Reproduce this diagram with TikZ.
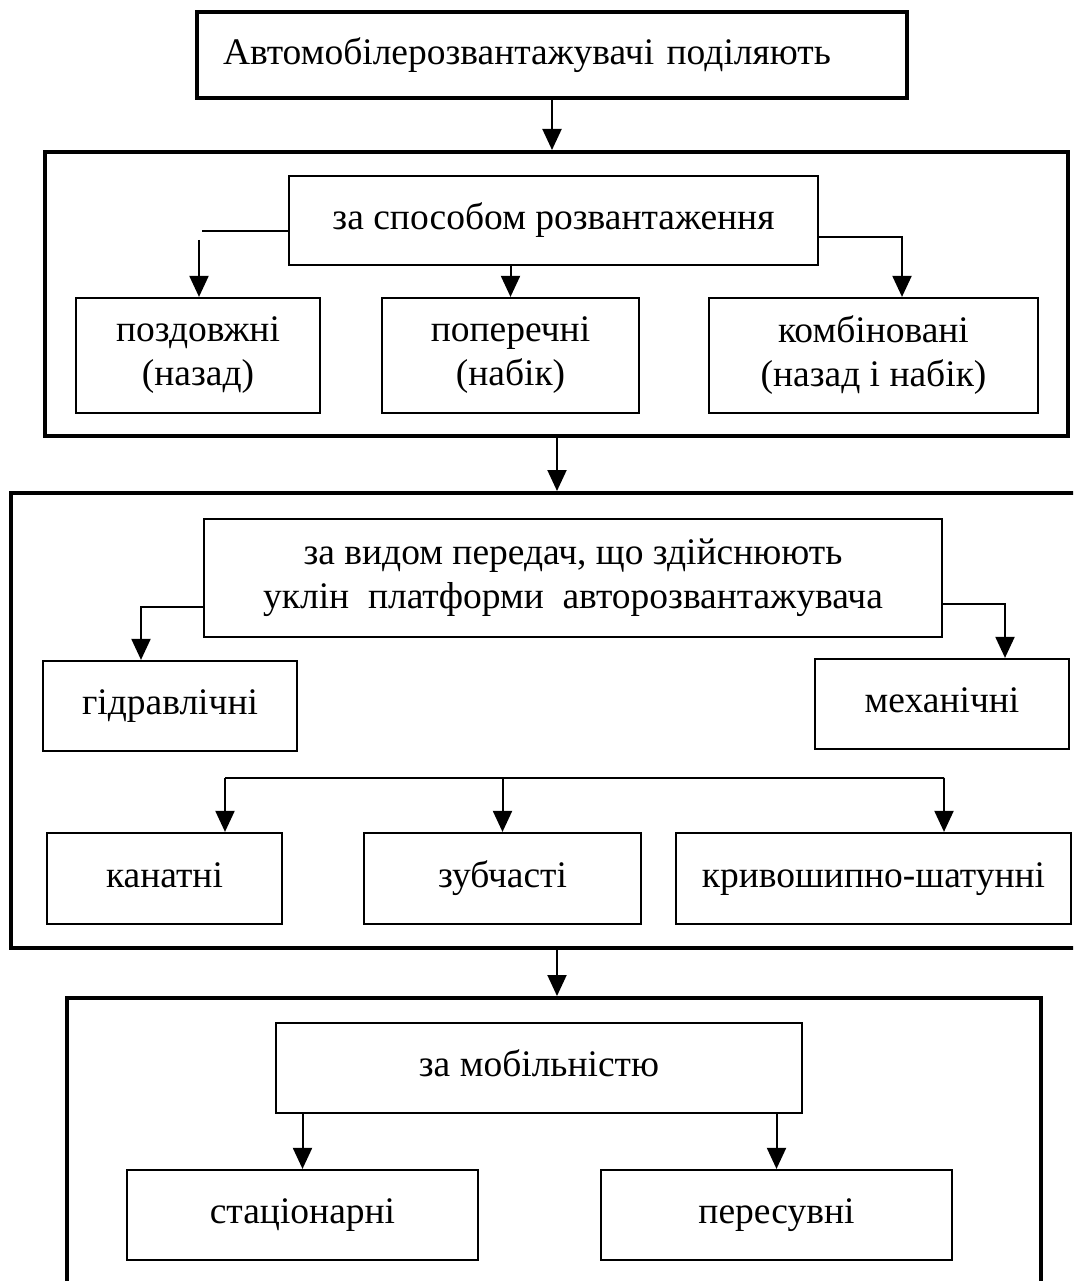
\documentclass[tikz,border=0pt]{standalone}
\usepackage{fontspec}
\setmainfont{Liberation Serif}
\usetikzlibrary{arrows.meta,calc}
\tikzset{
  txt/.style={font=\fontsize{37.5}{44}\selectfont},
  box/.style={draw, line width=2.2pt, inner sep=0pt, align=center, txt},
  sbox/.style={box, execute at begin node=\strut},
  topbox/.style={draw, line width=3.5pt, inner ysep=0pt, inner xsep=26pt, align=left, txt},
  grp/.style={draw, line width=4pt, inner sep=0pt},
  conn/.style={line width=2pt},
  arr/.style={conn, -{Triangle[length=21pt,width=19pt]}},
}
\begin{document}
\begin{tikzpicture}[x=1pt,y=-1pt]
\useasboundingbox (0,0) rectangle (1073,1281);
\clip (0,0) rectangle (1073,1281);
% top
\node[topbox, minimum height=86pt, text width=658pt] (top) at (552,55) {Автомобілерозвантажувачі поділяють};
% group 1
\node[grp, minimum width=1023pt, minimum height=284pt] (g1) at (556.5,294) {};
\node[sbox, minimum width=529pt, minimum height=89pt] (s1) at (553.5,220.5) {за способом розвантаження};
\node[box, minimum width=244pt, minimum height=115pt] (b11) at (198,355.5) {поздовжні\\(назад)};
\node[box, minimum width=257pt, minimum height=115pt] (b12) at (510.5,355.5) {поперечні\\(набік)};
\node[box, minimum width=329pt, minimum height=115pt] (b13) at (873.5,355.5) {комбіновані\\(назад і набік)};
% group 2
\node[grp, minimum width=1079pt, minimum height=455pt] (g2) at (550.5,720.5) {};
\node[box, minimum width=738pt, minimum height=118pt] (s2) at (573,578) {за видом передач, що здійснюють\\уклін\ \ платформи\ \ авторозвантажувача};
\node[sbox, minimum width=254pt, minimum height=90pt] (b21) at (170,706) {гідравлічні};
\node[sbox, minimum width=254pt, minimum height=90pt] (b22) at (942,704) {механічні};
\node[sbox, minimum width=235pt, minimum height=91pt] (b31) at (164.5,878.5) {канатні};
\node[sbox, minimum width=277pt, minimum height=91pt] (b32) at (502.5,878.5) {зубчасті};
\node[sbox, minimum width=395pt, minimum height=91pt] (b33) at (873.5,878.5) {кривошипно-шатунні};
% group 3
\node[grp, minimum width=974pt, minimum height=302pt] (g3) at (554,1149) {};
\node[sbox, minimum width=526pt, minimum height=90pt] (s3) at (539,1068) {за мобільністю};
\node[sbox, minimum width=351pt, minimum height=90pt] (b41) at (302.5,1215) {стаціонарні};
\node[sbox, minimum width=351pt, minimum height=90pt] (b42) at (776.5,1215) {пересувні};
% coordinates
\coordinate (c1a) at (202,231);
\coordinate (c1b) at (199,240);
\coordinate (c1c) at (902,237);
\coordinate (c2a) at (141,607);
\coordinate (c2b) at (1005,604);
\coordinate (bus) at (944,778);
\coordinate (busL) at (225,778);
\coordinate (a2) at (557,436);
\coordinate (a3) at (557,948);
% connectors
\draw[arr] (top.south) -- (top.south |- g1.north);
\draw[conn] (c1a -| s1.west) -- (c1a);
\draw[arr] (c1b) -- (c1b |- b11.north);
\draw[arr] (b12.north |- s1.south) -- (b12.north);
\draw[arr] (c1c -| s1.east) -- (c1c) -- (c1c |- b13.north);
\draw[arr] (a2) -- (a2 |- g2.north);
\draw[arr] (c2a -| s2.west) -- (c2a) -- (c2a |- b21.north);
\draw[arr] (c2b -| s2.east) -- (c2b) -- (c2b |- b22.north);
\draw[conn] (bus -| b22.south) -- (bus) -- (busL);
\draw[arr] (busL) -- (busL |- b31.north);
\draw[arr] (b32.north |- bus) -- (b32.north);
\draw[arr] (bus) -- (bus |- b33.north);
\draw[arr] (a3) -- (a3 |- g3.north);
\draw[arr] (b41.north |- s3.south) -- (b41.north);
\draw[arr] (b42.north |- s3.south) -- (b42.north);
\end{tikzpicture}
\end{document}
